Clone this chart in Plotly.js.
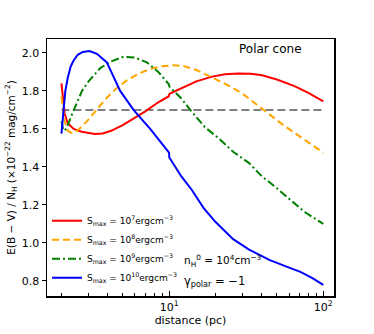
<!DOCTYPE html>
<html>
<head>
<meta charset="utf-8">
<script src="https://cdn.plot.ly/plotly-3.0.1.min.js"></script>
<style>
  html, body { margin: 0; padding: 0; background: #fff; }
  #chart { width: 374px; height: 334px; }
</style>
</head>
<body>
<div id="chart"></div>
<script>
// S_max = 1e7
var redX = [2, 2.05, 2.1, 2.2, 2.4, 2.7, 3.0, 3.3, 3.7, 4.2, 5, 6, 7, 8.5, 9.95, 10.05, 12, 15, 19, 23, 28, 34, 40, 50, 65, 80, 100];
var redY = [1.84, 1.74, 1.68, 1.63, 1.60, 1.585, 1.577, 1.573, 1.576, 1.59, 1.62, 1.657, 1.692, 1.74, 1.772, 1.785, 1.815, 1.85, 1.875, 1.887, 1.892, 1.89, 1.882, 1.86, 1.825, 1.79, 1.745];

// S_max = 1e8
var orangeX = [2, 2.05, 2.1, 2.2, 2.3, 2.45, 2.7, 3.0, 3.4, 3.9, 4.5, 5.3, 6.3, 7.5, 9, 10.7, 12.5, 15, 19, 24, 30, 41, 55, 75, 100];
var orangeY = [1.77, 1.7, 1.64, 1.59, 1.58, 1.582, 1.61, 1.65, 1.70, 1.76, 1.81, 1.855, 1.89, 1.915, 1.93, 1.935, 1.93, 1.91, 1.87, 1.83, 1.785, 1.70, 1.62, 1.545, 1.475];

// S_max = 1e9
var greenX = [2, 2.05, 2.1, 2.2, 2.35, 2.5, 2.72, 3.0, 3.57, 4.2, 5.06, 6, 7.17, 8.5, 9.95, 10.05, 12, 13.7, 17, 21, 26, 33, 40, 48, 60, 75, 100];
var greenY = [1.64, 1.60, 1.59, 1.62, 1.68, 1.73, 1.80, 1.85, 1.92, 1.955, 1.98, 1.975, 1.95, 1.9, 1.835, 1.822, 1.76, 1.70, 1.61, 1.55, 1.48, 1.42, 1.35, 1.30, 1.23, 1.165, 1.10];

// S_max = 1e10
var blueX = [2, 2.05, 2.12, 2.2, 2.3, 2.4, 2.55, 2.75, 3.04, 3.4, 3.94, 4.81, 5.87, 7.53, 9.98, 10.02, 12, 14, 16.7, 20, 26, 33, 45, 60, 71, 85, 100];
var blueY = [1.575, 1.66, 1.80, 1.87, 1.93, 1.96, 1.99, 2.005, 2.01, 1.995, 1.95, 1.80, 1.70, 1.60, 1.475, 1.45, 1.35, 1.28, 1.185, 1.11, 1.02, 0.965, 0.91, 0.87, 0.848, 0.815, 0.78];

var refX = [2, 100];
var refY = [1.7, 1.7];

var names = [
  'S<sub>max</sub> = 10<sup>7</sup>ergcm<sup>\u22123</sup>',
  'S<sub>max</sub> = 10<sup>8</sup>ergcm<sup>\u22123</sup>',
  'S<sub>max</sub> = 10<sup>9</sup>ergcm<sup>\u22123</sup>',
  'S<sub>max</sub> = 10<sup>10</sup>ergcm<sup>\u22123</sup>'
];

var data = [
  { x: refX, y: refY, mode: 'lines', showlegend: false, hoverinfo: 'skip',
    line: { color: '#808080', width: 2, dash: '8px,4px' } },
  { x: redX, y: redY, mode: 'lines', name: names[0],
    line: { color: '#ff0000', width: 2 } },
  { x: orangeX, y: orangeY, mode: 'lines', name: names[1],
    line: { color: '#ffa500', width: 2, dash: '7px,4px' } },
  { x: greenX, y: greenY, mode: 'lines', name: names[2],
    line: { color: '#008000', width: 2, dash: '8px,3px,2px,3px' } },
  { x: blueX, y: blueY, mode: 'lines', name: names[3],
    line: { color: '#0000ff', width: 2 } }
];

var layout = {
  width: 374,
  height: 334,
  margin: { l: 47, r: 40, t: 39, b: 38 },
  paper_bgcolor: '#fff',
  plot_bgcolor: '#fff',
  font: { family: 'DejaVu Sans, sans-serif', size: 11, color: '#000' },
  showlegend: true,
  legend: {
    x: 0.0, y: 0.015, xanchor: 'left', yanchor: 'bottom',
    bgcolor: 'rgba(0,0,0,0)',
    font: { size: 9 },
    tracegroupgap: 0
  },
  xaxis: {
    type: 'log',
    range: [Math.log10(1.612), Math.log10(117.3)],
    tickvals: [10, 100],
    ticktext: ['10<sup>1</sup>', '10<sup>2</sup>'],
    ticks: 'inside', ticklen: 5, tickwidth: 1, tickcolor: '#000',
    minor: { tickvals: [2, 3, 4, 5, 6, 7, 8, 9, 20, 30, 40, 50, 60, 70, 80, 90],
             ticks: 'inside', ticklen: 3, tickcolor: '#000' },
    showgrid: false, zeroline: false,
    showline: true, linecolor: '#000', linewidth: 1.5, mirror: true,
    title: { text: 'distance (pc)', font: { size: 11 }, standoff: 2 }
  },
  yaxis: {
    range: [0.721, 2.073],
    tickvals: [0.8, 1.0, 1.2, 1.4, 1.6, 1.8, 2.0],
    ticktext: ['0.8', '1.0', '1.2', '1.4', '1.6', '1.8', '2.0'],
    ticks: 'outside', ticklen: 4, tickwidth: 1, tickcolor: '#000',
    showgrid: false, zeroline: false,
    showline: true, linecolor: '#000', linewidth: 1.5, mirror: true,
    title: { text: 'E(B \u2212 V) / N<sub>H</sub> (\u00d710<sup>\u221222</sup> mag/cm<sup>\u22122</sup>)',
             font: { size: 10.5 }, standoff: 4 }
  },
  annotations: [
    { text: 'Polar cone', xref: 'paper', yref: 'paper', x: 0.78, y: 0.963,
      xanchor: 'center', yanchor: 'middle', showarrow: false, font: { size: 12 } },
    { text: 'n<sub>H</sub><sup>0</sup> = 10<sup>4</sup>cm<sup>\u22123</sup>', xref: 'paper', yref: 'paper',
      x: 0.472, y: 0.135, xanchor: 'left', yanchor: 'middle', showarrow: false, font: { size: 10.5 } },
    { text: '\u03b3<sub>polar</sub> = \u22121', xref: 'paper', yref: 'paper',
      x: 0.472, y: 0.055, xanchor: 'left', yanchor: 'middle', showarrow: false, font: { size: 11.5 } }
  ]
};

Plotly.newPlot('chart', data, layout, { displayModeBar: false, staticPlot: true });
</script>
</body>
</html>
